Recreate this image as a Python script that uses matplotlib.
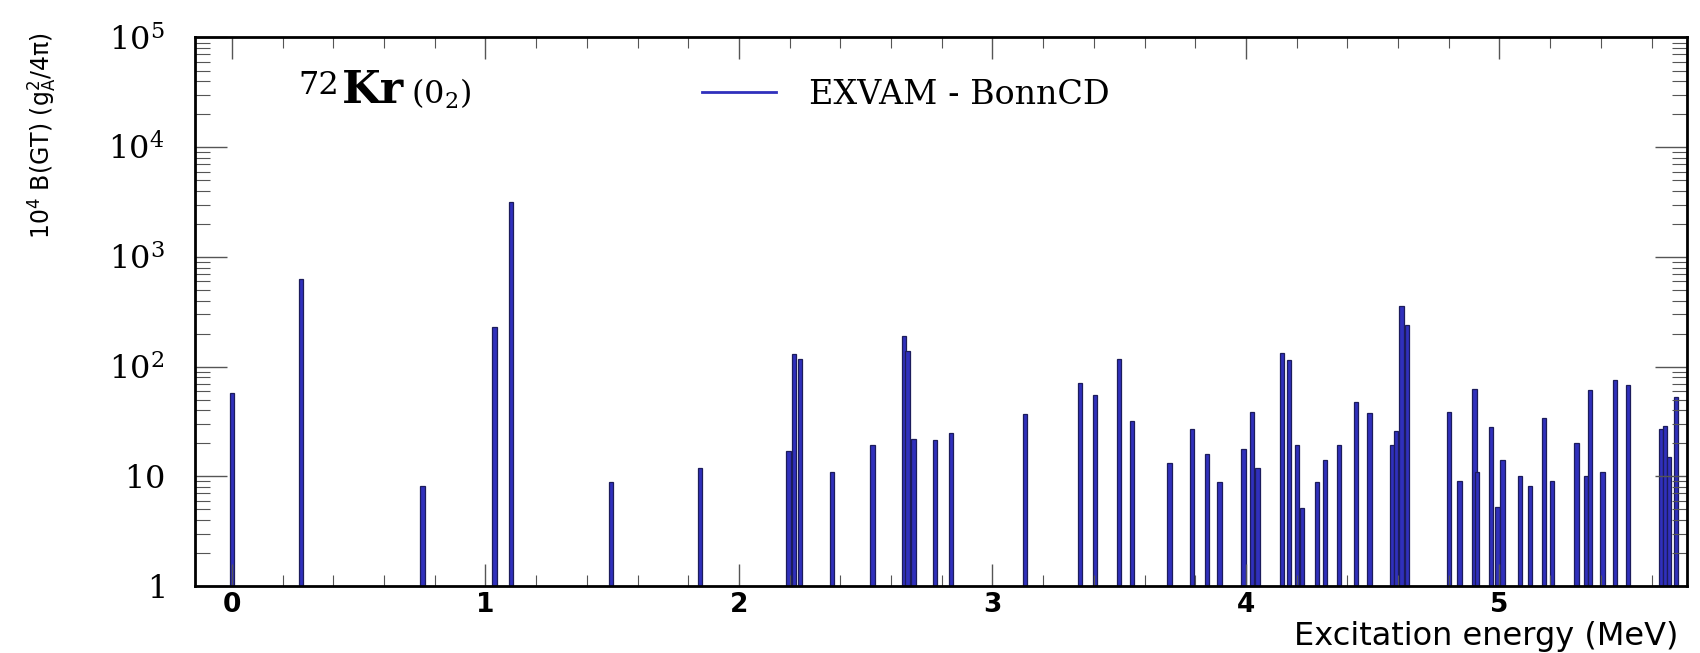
import matplotlib
matplotlib.use('Agg')
import matplotlib.pyplot as plt
from matplotlib.ticker import FixedLocator, MultipleLocator, LogLocator, NullFormatter
from matplotlib.lines import Line2D

plt.rcParams['mathtext.fontset'] = 'dejavuserif'

# GT strength per excited state (energy in MeV, 10^4 B(GT))
energy = [0.0, 0.272, 0.752, 1.036, 1.100, 1.494, 1.846,
          2.195, 2.218, 2.241, 2.366, 2.527, 2.652, 2.665, 2.688, 2.773, 2.835,
          3.128, 3.345, 3.404, 3.499, 3.549, 3.698, 3.788, 3.847, 3.895, 3.990,
          4.025, 4.046, 4.141, 4.171, 4.200, 4.222, 4.279, 4.312, 4.368, 4.433,
          4.487, 4.577, 4.592, 4.614, 4.634, 4.802, 4.842, 4.901, 4.910, 4.967,
          4.992, 5.012, 5.080, 5.120, 5.175, 5.206, 5.304, 5.340, 5.357, 5.406,
          5.456, 5.506, 5.636, 5.653, 5.670, 5.696]
bgt = [57, 624, 8.1, 229, 3133, 8.9, 11.8,
       17.0, 130, 117, 11.0, 19.1, 192, 138, 22.1, 21.2, 24.8,
       37.3, 70.5, 55.2, 117, 31.6, 13.2, 27.0, 16.0, 8.9, 17.9,
       38.3, 11.8, 132, 114, 19.1, 5.1, 8.9, 14.1, 19.1, 47.6,
       37.6, 19.1, 25.9, 360, 239, 38.3, 9.1, 61.9, 11.0, 28.2,
       5.2, 14.1, 10.1, 8.2, 34.2, 9.1, 20.3, 10.1, 60.8, 11.0,
       75, 67.5, 27, 29, 15.1, 52.9]

x_ticks = [0, 1, 2, 3, 4, 5]
y_ticks = [1, 10, 100, 1e3, 1e4, 1e5]
y_tick_labels = ['$1$', '$10$', '$10^{2}$', '$10^{3}$', '$10^{4}$', '$10^{5}$']

BAR = '#3030bc'
EDGE = '#1c1c5c'

fig = plt.figure(figsize=(17, 6.53), dpi=100)
ax = fig.add_axes([0.1147, 0.1026, 0.8777, 0.84])

ax.bar(energy, bgt, width=0.017, color=BAR, edgecolor=EDGE, linewidth=0.9, log=True)
ax.set_xlim(-0.146, 5.74)
ax.set_ylim(1, 1e5)

# ticks, ROOT style (inward on all four sides)
ax.xaxis.set_major_locator(FixedLocator(x_ticks))
ax.xaxis.set_minor_locator(MultipleLocator(0.2))
ax.yaxis.set_major_locator(FixedLocator(y_ticks))
ax.yaxis.set_minor_locator(LogLocator(base=10, subs=range(2, 10), numticks=20))
ax.yaxis.set_minor_formatter(NullFormatter())
ax.set_yticklabels(y_tick_labels)
ax.tick_params(which='both', direction='in', top=True, right=True, color='#555555')
ax.tick_params(axis='x', which='major', length=16, width=1, labelsize=19, pad=4)
ax.tick_params(axis='x', which='minor', length=8, width=0.8)
ax.tick_params(axis='y', which='major', length=23, width=1, labelsize=23, pad=22)
ax.tick_params(axis='y', which='minor', length=11, width=0.8)
for lab in ax.get_xticklabels():
    lab.set_fontweight('bold')
    lab.set_family('DejaVu Sans')
for sp in ax.spines.values():
    sp.set_linewidth(2)

ax.set_xlabel('Excitation energy (MeV)', fontsize=23, family='DejaVu Sans', loc='right')
ax.xaxis.set_label_coords(0.994, -0.064)
ax.set_ylabel(r'10$^\mathsf{4}$ B(GT) (g$_\mathsf{A}^\mathsf{2}$/4π)', fontsize=17,
              family='DejaVu Sans', loc='top')
ax.yaxis.set_label_coords(-0.092, 1.01)

# nucleus label
t1 = ax.text(0.069, 0.897, '72', transform=ax.transAxes, fontsize=23,
             family='DejaVu Serif', va='baseline', ha='left')
t2 = ax.annotate('Kr', xy=(1, 0), xycoords=t1, xytext=(2, -8), textcoords='offset points',
                 fontsize=32, family='DejaVu Serif', fontweight='bold', va='bottom', ha='left')
ax.annotate('(0$_2$)', xy=(1, 0), xycoords=t2, xytext=(5, 1), textcoords='offset points',
            fontsize=23, family='DejaVu Serif', va='bottom', ha='left')

handle = Line2D([], [], color=BAR, lw=2)
ax.legend([handle], ['EXVAM - BonnCD'], loc='center left', bbox_to_anchor=(0.34, 0.895),
          frameon=False, prop={'family': 'DejaVu Serif', 'size': 24},
          handlelength=2.2, handletextpad=1.0, borderpad=0, borderaxespad=0)

fig.savefig('out.png', dpi=100)
